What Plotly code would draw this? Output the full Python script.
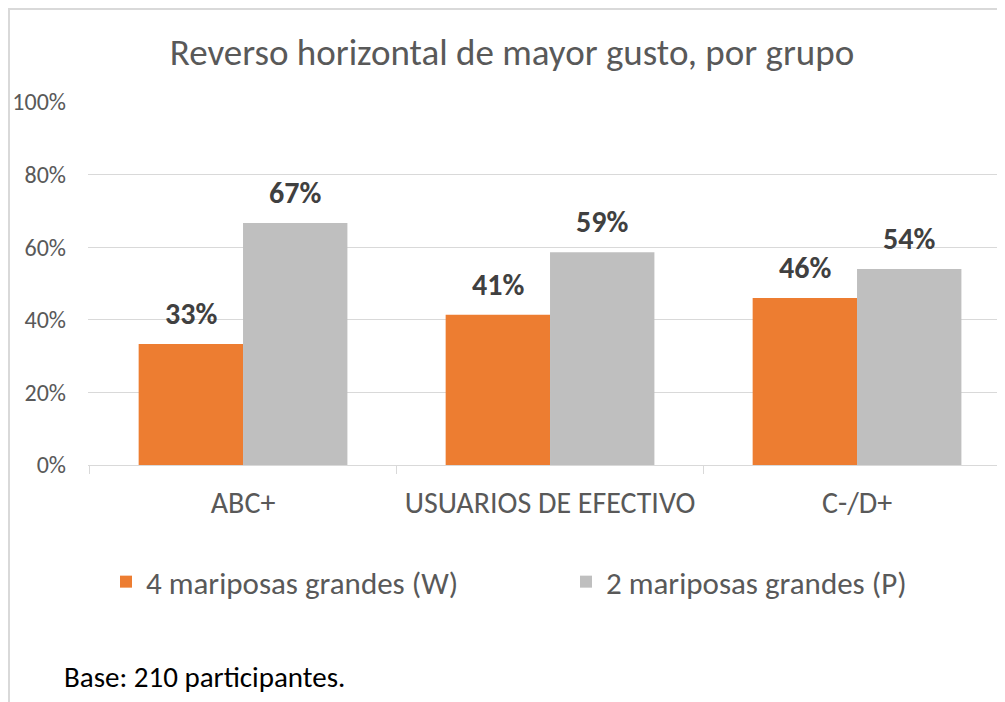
import plotly.graph_objects as go

categories = ["ABC+", "USUARIOS DE EFECTIVO", "C-/D+"]
series_w_name = "4 mariposas grandes (W)"
series_p_name = "2 mariposas grandes (P)"
values_w = [0.333, 0.414, 0.46]
values_p = [0.667, 0.586, 0.54]
labels_w = ["33%", "41%", "46%"]
labels_p = ["67%", "59%", "54%"]
y_ticks = [0, 0.2, 0.4, 0.6, 0.8, 1.0]
y_tick_labels = ["0%", "20%", "40%", "60%", "80%", "100%"]
title_text = "Reverso horizontal de mayor gusto, por grupo"
note_text = "Base: 210 participantes."

FONT = "Carlito, Lato"
ORANGE = "#ED7D31"
GRAY = "#BFBFBF"
TXT = "#595959"
W, H = 997, 694
ML, MR, MT, MB = 80, 0, 94, 237
PW, PH = W - ML - MR, H - MT - MB

def px_to_paper_x(px):
    return (px - ML) / PW

def px_to_paper_y(py):
    return (H - MB - py) / PH

fig = go.Figure()
fig.add_trace(go.Bar(x=categories, y=values_w, name=series_w_name, legend="legend",
                     showlegend=True,
                     marker=dict(color=ORANGE, line=dict(width=0))))
fig.add_trace(go.Bar(x=categories, y=values_p, name=series_p_name, legend="legend2",
                     showlegend=True,
                     marker=dict(color=GRAY, line=dict(width=0))))

annotations = []
bar_px = PW / 2.987 * (1 - 0.32) / 2
for i, c in enumerate(categories):
    for vals, labs, sgn in ((values_w, labels_w, -1), (values_p, labels_p, 1)):
        annotations.append(dict(x=c, y=vals[i], xref="x", yref="y", text=labs[i],
                                showarrow=False, xanchor="center", yanchor="bottom",
                                xshift=sgn * bar_px / 2, yshift=10,
                                font=dict(family=FONT, size=30, color="#404040", weight="bold")))
annotations.append(dict(x=px_to_paper_x(54), y=px_to_paper_y(669), xref="paper", yref="paper",
                        text=note_text, showarrow=False, xanchor="left", yanchor="middle",
                        font=dict(family=FONT, size=29, color="#000000")))

shapes = [
    dict(type="line", xref="paper", yref="paper", x0=px_to_paper_x(1), x1=px_to_paper_x(1),
         y0=px_to_paper_y(0), y1=px_to_paper_y(H), line=dict(color="#D9D9D9", width=2)),
    dict(type="line", xref="paper", yref="paper", x0=px_to_paper_x(0), x1=px_to_paper_x(W),
         y0=px_to_paper_y(1), y1=px_to_paper_y(1), line=dict(color="#D9D9D9", width=2)),
]

legend_common = dict(orientation="h", yanchor="middle", y=px_to_paper_y(574),
                     font=dict(family=FONT, size=31, color=TXT), visible=True,
                     bgcolor="rgba(0,0,0,0)", xanchor="left")

fig.update_layout(
    width=W, height=H,
    showlegend=True,
    margin=dict(l=ML, r=MR, t=MT, b=MB),
    paper_bgcolor="white", plot_bgcolor="white",
    barmode="group", bargap=0.32, bargroupgap=0,
    title=dict(text=title_text, x=504 / W, xref="container", xanchor="center",
               y=1 - 44 / H, yref="container", yanchor="middle",
               font=dict(family=FONT, size=37, color=TXT, weight=300)),
    font=dict(family=FONT, color=TXT),
    legend=dict(x=px_to_paper_x(98), **legend_common),
    legend2=dict(x=px_to_paper_x(558), **legend_common),
    annotations=annotations,
    shapes=shapes,
    xaxis=dict(range=[-0.505, 2.482], showgrid=False, showline=True, linecolor="#D9D9D9",
               linewidth=1, ticks="outside", tickson="boundaries", ticklen=8,
               tickcolor="#D9D9D9", tickfont=dict(family=FONT, size=30, color=TXT),
               ticklabelstandoff=11),
    yaxis=dict(range=[0, 1], tickvals=y_ticks, ticktext=y_tick_labels, showgrid=True,
               gridcolor="#D9D9D9", gridwidth=1, zeroline=False, showline=False,
               tickfont=dict(family=FONT, size=24, color=TXT), ticklabelstandoff=21),
)

fig.write_html("out.html")
